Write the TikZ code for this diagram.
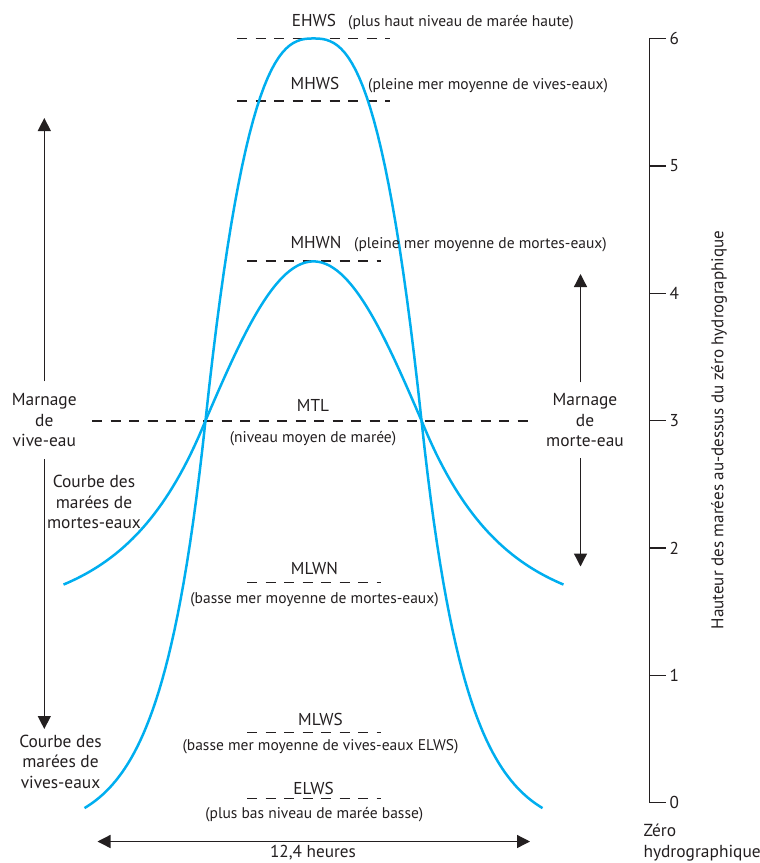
\documentclass[tikz,border=0pt]{standalone}
\usepackage{fontspec}
\setmainfont{PT Sans}
\usetikzlibrary{arrows.meta}
\definecolor{tideblue}{HTML}{00AEEF}
\definecolor{ink}{HTML}{231F20}
\begin{document}
\begin{tikzpicture}[x=1pt,y=-1pt,
  tide/.style={draw=tideblue,line width=2.5pt},
  level/.style={draw=ink,line width=1.2pt,dash pattern=on 10pt off 8.5pt},
  lbl/.style={font=\fontsize{17.2}{20.5}\selectfont,inner sep=0pt,anchor=base,text=ink},
  note/.style={font=\fontsize{15.5}{18}\selectfont,inner sep=0pt,anchor=base,text=ink},
  multi/.style={font=\fontsize{17.4}{20.5}\selectfont,inner xsep=0pt,inner ysep=0pt,align=center,text=ink},
  rng/.style={draw=ink,line width=1.3pt},
  tipend/.style={-{Triangle[length=13pt,width=13pt]}},
  axisline/.style={draw=ink,line width=1.4pt},
  ticklbl/.style={font=\fontsize{17.2}{20.5}\selectfont,inner sep=0pt,anchor=west,text=ink},
]
\useasboundingbox (0,0) rectangle (760,863);

% ---- level lines
\coordinate (ehwsA) at (237,38.5);  \coordinate (ehwsB) at (390,38.5);
\coordinate (mhwsA) at (237,101);   \coordinate (mhwsB) at (390,101);
\coordinate (mhwnA) at (247,261);   \coordinate (mhwnB) at (381,261);
\coordinate (mtlA)  at (92,421);    \coordinate (mtlB)  at (534,421);
\coordinate (mlwnA) at (247,582.5); \coordinate (mlwnB) at (381,582.5);
\coordinate (mlwsA) at (247,732.7); \coordinate (mlwsB) at (381,732.7);
\coordinate (elwsA) at (247,798.3); \coordinate (elwsB) at (381,798.3);
\foreach \n in {ehws,mhws,mhwn,mtl,mlwn,mlws,elws}
  \draw[level] (\n A) -- (\n B);

% ---- tide curves
% spring tide
\draw[tide]
  plot[domain=229:108,samples=40] ({313.5-\x},{802.7-127.37*(3.25*exp(-(\x-108)/44)-0.25)})
  -- plot[domain=-108:108,samples=60] ({313.5+\x},{802.7-127.37*(6-3*(abs(\x)/108)^2.65)})
  -- plot[domain=108:229,samples=40] ({313.5+\x},{802.7-127.37*(3.25*exp(-(\x-108)/44)-0.25)});
% neap tide
\draw[tide]
  plot[domain=250:108,samples=40] ({313.5-\x},{802.7-127.37*(1.45+1.55*exp(-(\x-108)/80))})
  -- plot[domain=-108:108,samples=60] ({313.5+\x},{802.7-127.37*(3+1.25*cos(90*\x/108))})
  -- plot[domain=108:250,samples=40] ({313.5+\x},{802.7-127.37*(1.45+1.55*exp(-(\x-108)/80))});

% ---- level labels
\node[lbl] (ehws) at (314,26) {EHWS};
\node[note,anchor=base west] (ehwsN) at (348,26) {(plus haut niveau de marée haute)};
\node[lbl] (mhws) at (315,89) {MHWS};
\node[note,anchor=base west] (mhwsN) at (368,89) {(pleine mer moyenne de vives-eaux)};
\node[lbl] (mhwn) at (316,248) {MHWN};
\node[note,anchor=base west] (mhwnN) at (354,248) {(pleine mer moyenne de mortes-eaux)};
\node[lbl] (mtl) at (313,411.5) {MTL};
\node[note] (mtlN) at (313,442) {(niveau moyen de marée)};
\node[lbl] (mlwn) at (314.5,574) {MLWN};
\node[note] (mlwnN) at (314.5,603) {(basse mer moyenne de mortes-eaux)};
\node[lbl] (mlws) at (320.5,725) {MLWS};
\node[note] (mlwsN) at (320.5,750) {(basse mer moyenne de vives-eaux ELWS)};
\node[lbl] (elws) at (313.5,794) {ELWS};
\node[note] (elwsN) at (314.3,818) {(plus bas niveau de marée basse)};

% ---- curve labels
\node[multi] (neapC) at (94,502) {Courbe des\\marées de\\mortes-eaux};
\node[multi] (springC) at (60.5,761.4) {Courbe des\\marées de\\vives-eaux};

% ---- spring range arrow
\node[multi,inner ysep=12pt] (springR) at (44.3,420.3) {Marnage\\de\\vive-eau};
\coordinate (springTop) at (44.3,118);
\coordinate (springBot) at (44.3,729);
\draw[rng,tipend] (springR.north) -- (springTop);
\draw[rng,tipend] (springR.south) -- (springBot);

% ---- neap range arrow
\node[multi,inner ysep=11pt] (neapR) at (585,420.3) {Marnage\\de\\morte-eau};
\coordinate (neapTop) at (580.5,274);
\coordinate (neapBot) at (580.5,566.5);
\draw[rng,tipend] ([xshift=-4.5pt]neapR.north) -- (neapTop);
\draw[rng,tipend] ([xshift=-4.5pt]neapR.south) -- (neapBot);

% ---- period arrow
\coordinate (perL) at (97.5,841.5);
\coordinate (perR) at (530,841.5);
\draw[rng,{Triangle[length=13pt,width=13pt]}-{Triangle[length=13pt,width=13pt]}] (perL) -- (perR);
\node[lbl] (per) at (313,857.5) {12,4 heures};

% ---- height axis
\draw[axisline] (666,38.5) -- (649.3,38.5) -- (649.3,802.7) -- (666,802.7);
\foreach \k in {1,...,5}
  \draw[axisline] (649.3,{802.7-127.37*\k}) -- (666,{802.7-127.37*\k});
\foreach \k in {0,...,6}
  \node[ticklbl] (tick\k) at (669.5,{802.7-127.37*\k}) {\k};
\node[lbl,font=\fontsize{17}{20.5}\selectfont,rotate=90] (axlbl) at (723.3,430) {Hauteur des marées au-dessus du zéro hydrographique};
\node[multi,align=left,anchor=north west] (zero) at (643.3,824) {Zéro\\hydrographique};
\end{tikzpicture}
\end{document}
